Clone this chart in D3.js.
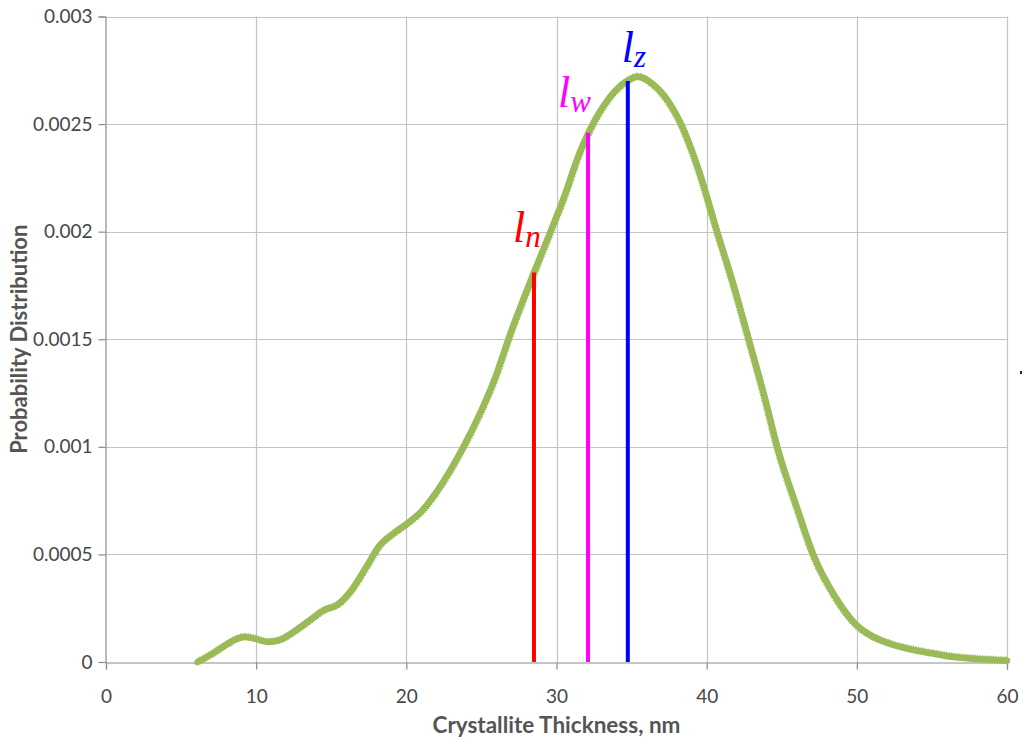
<!DOCTYPE html>
<html lang="en">
<head>
    <script src="https://d3js.org/d3.v7.min.js"></script>
    <style>
        body { margin: 0; background: #ffffff; }
        .tick text { font-family: Lato, "Open Sans", sans-serif; font-size: 19px; fill: #474747; }
        .axis-title { font-family: Lato, "Open Sans", sans-serif; font-weight: bold; fill: #555555; }
        .mark-label { font-family: "Liberation Serif"; font-style: italic; }
    </style>
</head>
<body>
    <svg id="chart" width="1024" height="742"></svg>

    <script>
    // crystallite thickness (nm) and probability
    const thickness = [6.1, 7, 8, 8.7, 9.25, 9.8, 10.8, 11.5, 12.5, 13.5, 14.5, 15.4, 16.3, 17.4, 18.2, 19.1,
        20, 21, 22, 23, 23.8, 25, 25.8, 27, 28.5, 29.6, 30.5, 31.5, 32.2, 33.5, 34.7, 35.4, 36.5,
        37.5, 38.3, 39.5, 40.7, 41.8, 42.8, 43.9, 44.7, 46, 47.1, 48.5, 50, 51, 52.2, 53.5, 55,
        56.5, 58, 60];
    const probability = [0, 0.000035, 0.00008, 0.000107, 0.000116, 0.00011, 0.000093, 0.0001, 0.00014, 0.00019,
        0.00024, 0.000265, 0.00033, 0.00045, 0.00054, 0.000595, 0.00064, 0.0007, 0.00079, 0.0009,
        0.001, 0.00117, 0.0013, 0.00154, 0.00181, 0.002, 0.00216, 0.00236, 0.00247, 0.00262,
        0.0027, 0.00272, 0.00268, 0.0026, 0.0025, 0.00228, 0.002, 0.00175, 0.0015, 0.00122,
        0.001, 0.00072, 0.0005, 0.00031, 0.00017, 0.00012, 0.000085, 0.00006, 0.00004,
        0.000023, 0.000014, 0.000006];

    // average thickness markers
    const markerNames = ["n", "w", "z"];
    const markerX = [28.5, 32.1, 34.75];
    const markerY = [0.00181, 0.00246, 0.0027];
    const markerColors = ["#ff0000", "#ff00ff", "#0000ff"];

    const xTicks = [0, 10, 20, 30, 40, 50, 60];
    const yTicks = [0, 0.0005, 0.001, 0.0015, 0.002, 0.0025, 0.003];

    const svg = d3.select("#chart");
    const margin = {top: 16.5, right: 17, bottom: 80, left: 106};
    const width = 1024, height = 742;

    const x = d3.scaleLinear().domain([0, 60]).range([margin.left, width - margin.right]);
    const y = d3.scaleLinear().domain([0, 0.003]).range([height - margin.bottom, margin.top]);

    // gridlines
    svg.append("g")
        .selectAll("line.hgrid")
        .data(yTicks.slice(1))
        .enter().append("line")
        .attr("x1", x(0)).attr("x2", x(60))
        .attr("y1", d => Math.round(y(d)) + 0.5).attr("y2", d => Math.round(y(d)) + 0.5)
        .attr("stroke", "#c4c4c4").attr("stroke-width", 1.2);
    svg.append("g")
        .selectAll("line.vgrid")
        .data(xTicks.slice(1))
        .enter().append("line")
        .attr("y1", y(0)).attr("y2", y(0.003))
        .attr("x1", d => Math.round(x(d)) + 0.5).attr("x2", d => Math.round(x(d)) + 0.5)
        .attr("stroke", "#c4c4c4").attr("stroke-width", 1.2);

    // axes
    const xAxis = svg.append("g")
        .attr("transform", `translate(0,${Math.round(y(0)) + 0.5})`)
        .call(d3.axisBottom(x).tickValues(xTicks).tickSize(7).tickPadding(20).tickFormat(d3.format("d")));
    const yAxis = svg.append("g")
        .attr("transform", `translate(${Math.round(x(0)) - 0.5},0)`)
        .call(d3.axisLeft(y).tickValues(yTicks).tickSize(7).tickPadding(6).tickFormat(d => d === 0 ? "0" : String(+d.toFixed(4))));
    [xAxis, yAxis].forEach(a => {
        a.select(".domain").attr("stroke", "#8c8c8c").attr("stroke-width", 1.2);
        a.selectAll(".tick line").attr("stroke", "#8c8c8c").attr("stroke-width", 1.2);
    });

    // distribution curve
    const points = thickness.map((t, i) => [x(t), y(probability[i])]);
    const line = d3.line().curve(d3.curveMonotoneX);
    const path = svg.append("path")
        .attr("d", line(points))
        .attr("fill", "none")
        .attr("stroke", "#9bbb59")
        .attr("stroke-width", 6.5)
        .attr("stroke-linecap", "round");

    // triangle markers placed densely along the drawn path
    const node = path.node();
    const total = node.getTotalLength();
    const tri = d3.symbol().type(d3.symbolTriangle).size(28);
    const markerG = svg.append("g");
    for (let s = 0; s <= total; s += 2.6) {
        const p = node.getPointAtLength(s);
        markerG.append("path")
            .attr("d", tri())
            .attr("transform", `translate(${p.x},${p.y})`)
            .attr("fill", "#9bbb59");
    }

    // vertical lines for l_n, l_w, l_z
    const labelDx = [-21, -30, -6];
    const labelDy = [-31, -26, -19];
    markerNames.forEach((name, i) => {
        svg.append("line")
            .attr("x1", x(markerX[i])).attr("x2", x(markerX[i]))
            .attr("y1", y(0)).attr("y2", y(markerY[i]))
            .attr("stroke", markerColors[i]).attr("stroke-width", 4);

        const t = svg.append("text")
            .attr("class", "mark-label")
            .attr("x", x(markerX[i]) + labelDx[i])
            .attr("y", y(markerY[i]) + labelDy[i])
            .attr("fill", markerColors[i])
            .attr("font-size", 44);
        t.append("tspan").text("l");
        t.append("tspan").attr("font-size", 31).attr("dy", 5).text(name);
    });

    // axis titles
    svg.append("text")
        .attr("class", "axis-title")
        .attr("x", (x(0) + x(60)) / 2)
        .attr("y", 733)
        .attr("text-anchor", "middle")
        .attr("font-size", 22.5)
        .text("Crystallite Thickness, nm");

    svg.append("text")
        .attr("class", "axis-title")
        .attr("transform", `translate(27,${(y(0) + y(0.003)) / 2}) rotate(-90)`)
        .attr("text-anchor", "middle")
        .attr("font-size", 22)
        .text("Probability Distribution");

    // small stray mark at the right edge
    svg.append("rect").attr("x", 1020).attr("y", 371).attr("width", 2).attr("height", 3).attr("fill", "#222");
    </script>
</body>
</html>
